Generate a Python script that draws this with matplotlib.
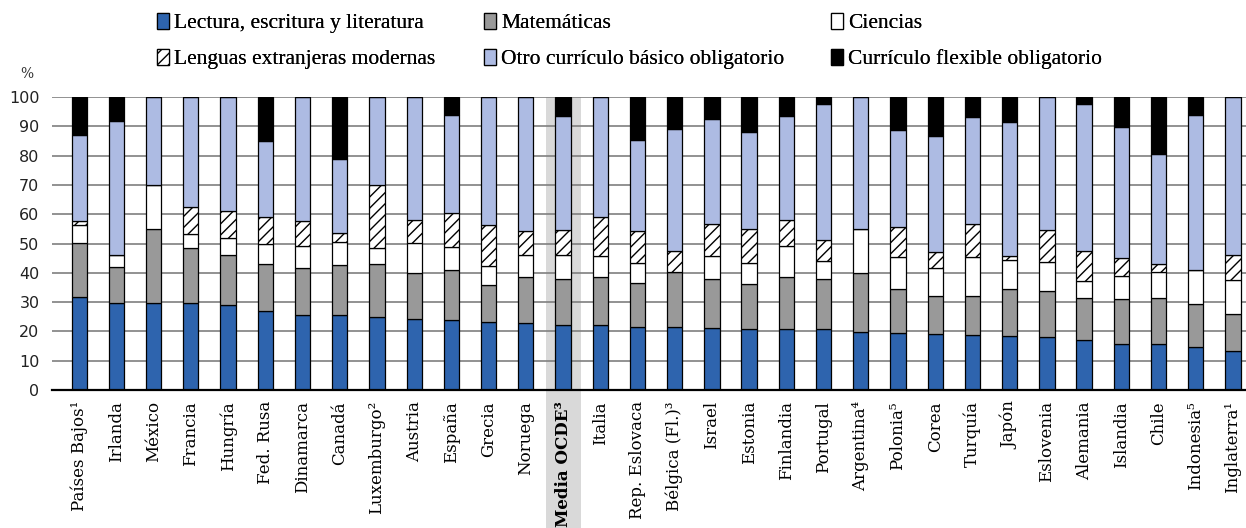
import matplotlib
matplotlib.use("Agg")
import matplotlib.pyplot as plt
from matplotlib.patches import Patch
import numpy as np

paises = ["Países Bajos¹", "Irlanda", "México", "Francia", "Hungría", "Fed. Rusa",
          "Dinamarca", "Canadá", "Luxemburgo²", "Austria", "España", "Grecia",
          "Noruega", "Media OCDE³", "Italia", "Rep. Eslovaca", "Bélgica (Fl.)³",
          "Israel", "Estonia", "Finlandia", "Portugal", "Argentina⁴", "Polonia⁵",
          "Corea", "Turquía", "Japón", "Eslovenia", "Alemania", "Islandia", "Chile",
          "Indonesia⁵", "Inglaterra¹"]

lectura = [31.7, 29.8, 29.8, 29.8, 29.0, 27.1, 25.6, 25.5, 24.8, 24.3, 23.9, 23.2,
           22.9, 22.2, 22.1, 21.5, 21.5, 21.1, 20.7, 20.7, 20.7, 19.8, 19.6, 19.1,
           18.7, 18.3, 18.0, 16.9, 15.8, 15.6, 14.6, 13.2]
matematicas = [18.6, 12.1, 25.1, 18.7, 17.0, 16.0, 16.2, 17.1, 18.1, 15.6, 17.1, 12.8,
               15.8, 15.8, 16.6, 15.1, 18.8, 16.7, 15.4, 17.9, 17.3, 20.1, 14.8, 13.0,
               13.4, 16.3, 15.8, 14.4, 15.1, 15.8, 14.7, 12.9]
ciencias = [5.9, 4.1, 15.0, 4.8, 5.8, 6.8, 7.4, 7.9, 5.7, 10.2, 7.7, 6.4,
            7.4, 8.1, 7.2, 6.7, 0.0, 7.8, 7.4, 10.4, 6.1, 15.1, 11.0, 9.7,
            13.2, 9.8, 9.8, 5.8, 7.9, 8.8, 11.7, 11.5]
lenguas = [1.4, 0.0, 0.0, 9.1, 9.2, 9.1, 8.4, 3.0, 21.3, 8.0, 11.7, 13.9,
           8.2, 8.5, 13.2, 10.8, 7.2, 11.1, 11.5, 9.0, 7.2, 0.0, 10.1, 5.4,
           11.3, 1.3, 11.0, 10.2, 6.4, 2.9, 0.0, 8.5]
otro = [29.6, 45.8, 30.1, 37.6, 39.0, 26.0, 42.4, 25.3, 30.1, 41.9, 33.6, 43.7,
        45.7, 38.8, 40.9, 31.1, 41.7, 35.9, 33.2, 35.5, 46.4, 45.0, 33.1, 39.6,
        36.5, 45.9, 45.4, 50.3, 44.4, 37.3, 52.8, 53.9]
flexible = [12.8, 8.2, 0.0, 0.0, 0.0, 15.0, 0.0, 21.2, 0.0, 0.0, 6.0, 0.0,
            0.0, 6.6, 0.0, 14.8, 10.8, 7.4, 11.8, 6.5, 2.3, 0.0, 11.4, 13.2,
            6.9, 8.4, 0.0, 2.4, 10.4, 19.6, 6.2, 0.0]

series = [
    ("Lectura, escritura y literatura", lectura, "#2E64AE", None),
    ("Matemáticas", matematicas, "#999999", None),
    ("Ciencias", ciencias, "#FFFFFF", None),
    ("Lenguas extranjeras modernas", lenguas, "#FFFFFF", "///"),
    ("Otro currículo básico obligatorio", otro, "#ADBBE3", None),
    ("Currículo flexible obligatorio", flexible, "#000000", None),
]

plt.rcParams["hatch.linewidth"] = 1.0

fig = plt.figure(figsize=(12.46, 5.28), dpi=100)
ax = fig.add_axes([52 / 1246, 138 / 528, 1 - 52 / 1246, 293 / 528])

x = np.arange(len(paises))
ocde = paises.index("Media OCDE³")
ax.axvspan(ocde - 0.47, ocde + 0.47, ymin=-0.475, ymax=1.0, color="#D9D9D9",
           zorder=0, clip_on=False, lw=0)

bottom = np.zeros(len(paises))
handles = []
for name, vals, color, hatch in series:
    vals = np.array(vals)
    ax.bar(x, vals, width=0.41, bottom=bottom, color=color, edgecolor="black",
           linewidth=0.9, hatch=hatch, zorder=3)
    bottom += vals
    handles.append(Patch(facecolor=color, edgecolor="black", hatch=hatch,
                         linewidth=0.9, label=name))

ax.set_ylim(0, 100)
ax.set_xlim(-0.73, 31.35)
ax.set_yticks(range(0, 101, 10))
ax.yaxis.grid(True, color="#7F7F7F", linewidth=1.2, zorder=1)
ax.set_axisbelow(True)
for s in ["top", "right", "left"]:
    ax.spines[s].set_visible(False)
ax.spines["bottom"].set_linewidth(1.6)
ax.spines["bottom"].set_zorder(4)
ax.tick_params(axis="y", length=0, pad=9, labelsize=11.5, labelcolor="#222222")
ax.tick_params(axis="x", length=0, pad=8)
ax.set_xticks(x)
ax.set_xticklabels(paises, rotation=90, family="DejaVu Serif", fontsize=12)
ax.get_xticklabels()[ocde].set_fontweight("bold")

fig.text(20 / 1246, 1 - 74 / 528, "%", fontsize=10, family="DejaVu Serif",
         va="center", ha="left", color="#333333")

# three legend columns, each anchored at its own left edge
col_x = [157, 484, 831]
for c, xpix in enumerate(col_x):
    pair = [handles[c], handles[c + 3]]
    leg = fig.legend(pair, [h.get_label() for h in pair], ncol=1,
                     loc="upper left", bbox_to_anchor=(xpix / 1246, 1 - 13 / 528),
                     frameon=False, prop={"family": "Liberation Serif", "size": 15.5},
                     handlelength=0.56, handleheight=0.76, handletextpad=0.25,
                     labelspacing=0.72, borderpad=0, borderaxespad=0)
    fig.add_artist(leg)

fig.savefig("out.png", dpi=100)
